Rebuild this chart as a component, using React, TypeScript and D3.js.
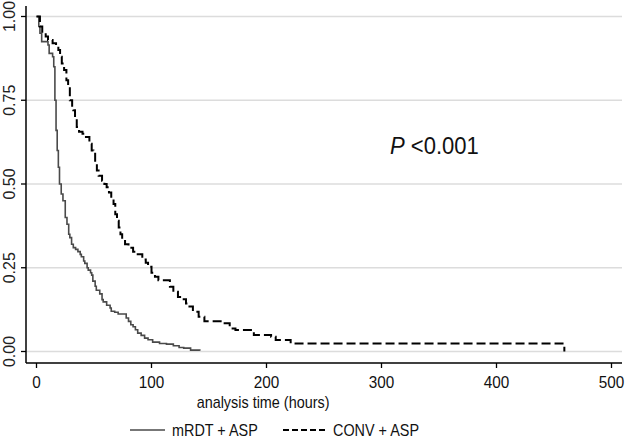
import React from "react";
import * as d3 from "d3";

const mrdtTime = [0, 2, 3, 4.5, 10, 11, 14, 15, 16, 17, 18, 19, 20, 21.5, 23, 25, 26.5, 28, 29, 30.5, 32, 34, 36, 38, 39, 41, 42, 44, 45, 47, 48, 49, 51, 52, 55, 57, 58, 61, 64, 65, 68, 71, 78, 80, 82, 84, 86, 88, 91, 94, 97, 101, 107, 113, 119, 124, 128, 134, 142];
const mrdtSurv = [1, 0.97, 0.95, 0.925, 0.915, 0.89, 0.88, 0.85, 0.75, 0.66, 0.6, 0.55, 0.5, 0.47, 0.45, 0.4, 0.38, 0.35, 0.34, 0.32, 0.31, 0.305, 0.298, 0.29, 0.283, 0.27, 0.263, 0.25, 0.243, 0.235, 0.228, 0.21, 0.195, 0.183, 0.172, 0.155, 0.148, 0.138, 0.13, 0.12, 0.117, 0.112, 0.1, 0.09, 0.08, 0.074, 0.065, 0.055, 0.048, 0.04, 0.035, 0.028, 0.024, 0.022, 0.017, 0.012, 0.01, 0.004, 0.002];

const convTime = [0, 3, 5, 8, 10, 14, 17, 19, 20.5, 22, 24, 26, 27.5, 29, 31, 32, 33.5, 35, 37, 40, 43, 46, 48, 49.5, 51, 52.5, 54, 57, 59, 61, 63, 65, 67, 68.5, 70, 71.5, 73, 74.5, 77, 80, 84, 88, 92, 95, 97, 100, 103, 106, 116, 119, 123, 128, 130, 133, 136, 141, 146, 162, 168, 173, 189, 204, 208, 221, 459];
const convSurv = [1, 0.97, 0.95, 0.94, 0.93, 0.92, 0.91, 0.9, 0.88, 0.86, 0.84, 0.81, 0.79, 0.75, 0.73, 0.72, 0.7, 0.67, 0.656, 0.65, 0.64, 0.62, 0.6, 0.59, 0.56, 0.54, 0.525, 0.51, 0.5, 0.49, 0.475, 0.455, 0.44, 0.41, 0.39, 0.37, 0.35, 0.335, 0.32, 0.31, 0.298, 0.29, 0.275, 0.265, 0.253, 0.235, 0.223, 0.213, 0.193, 0.178, 0.163, 0.156, 0.143, 0.134, 0.119, 0.104, 0.09, 0.084, 0.069, 0.064, 0.049, 0.044, 0.034, 0.024, 0.0];

const xTicks = [0, 100, 200, 300, 400, 500];
const yTicks = [0, 0.25, 0.5, 0.75, 1];
const yTickLabels = ["0.00", "0.25", "0.50", "0.75", "1.00"];
const xTitle = "analysis time (hours)";
const legendLabels = ["mRDT + ASP", "CONV + ASP"];

const W = 625;
const H = 440;
const FONT = "'Liberation Sans', Arial, sans-serif";
const SQ = 0.9;

export default function App() {
  const x = d3.scaleLinear().domain([0, 500]).range([36.5, 611.5]);
  const y = d3.scaleLinear().domain([0, 1]).range([351.5, 16.5]);
  const axisLeft = 26;
  const axisBottom = 363;
  const plotRight = 622;

  const line = d3
    .line<[number, number]>()
    .x((d) => x(d[0]))
    .y((d) => y(d[1]))
    .curve(d3.curveStepAfter);

  const mrdt = mrdtTime.map((t, i) => [t, mrdtSurv[i]] as [number, number]);
  const conv = convTime.map((t, i) => [t, convSurv[i]] as [number, number]);

  return (
    <svg
      width={W}
      height={H}
      style={{ position: "absolute", left: 0, top: 0, background: "#fff" }}
      fontFamily={FONT}
    >
      <rect x={0} y={0} width={W} height={H} fill="#fff" />
      {yTicks.map((t) => (
        <line key={"g" + t} x1={axisLeft} x2={plotRight} y1={y(t)} y2={y(t)} stroke="#dcdcdc" strokeWidth={1.3} />
      ))}
      <path d={line(mrdt) || ""} fill="none" stroke="#4a4a4a" strokeWidth={1.6} />
      <path d={line(conv) || ""} fill="none" stroke="#000" strokeWidth={2} strokeDasharray="9,4" />

      {/* axes */}
      <line x1={axisLeft} x2={axisLeft} y1={6} y2={axisBottom} stroke="#000" strokeWidth={1.5} />
      <line x1={axisLeft} x2={plotRight} y1={axisBottom} y2={axisBottom} stroke="#000" strokeWidth={1.5} />
      {yTicks.map((t, i) => (
        <g key={"y" + t}>
          <line x1={axisLeft - 5} x2={axisLeft} y1={y(t)} y2={y(t)} stroke="#000" strokeWidth={1.3} />
          <text
            transform={`translate(15,${y(t)}) rotate(-90)`}
            textAnchor="middle"
            fontSize={16}
            fill="#222"
          >
            {yTickLabels[i]}
          </text>
        </g>
      ))}
      {xTicks.map((t) => (
        <g key={"x" + t}>
          <line x1={x(t)} x2={x(t)} y1={axisBottom} y2={axisBottom + 5} stroke="#000" strokeWidth={1.3} />
          <text
            transform={`translate(${x(t)},388) scale(${SQ},1)`}
            textAnchor="middle"
            fontSize={17}
            fill="#111"
          >
            {t}
          </text>
        </g>
      ))}
      <text transform={`translate(${x(197)},408) scale(${SQ},1)`} textAnchor="middle" fontSize={16}  fill="#111">
        {xTitle}
      </text>

      <text transform={`translate(390,154) scale(${SQ},1)`} fontSize={24.5} fill="#111">
        <tspan fontStyle="italic">P</tspan>
        <tspan> &lt;0.001</tspan>
      </text>

      {/* legend */}
      <line x1={130} x2={165} y1={430} y2={430} stroke="#4a4a4a" strokeWidth={1.6} />
      <text transform={`translate(172,436) scale(${SQ},1)`} fontSize={16} fill="#111">
        {legendLabels[0]}
      </text>
      <line x1={283} x2={326} y1={430} y2={430} stroke="#000" strokeWidth={2} strokeDasharray="6,3" />
      <text transform={`translate(333,436) scale(${SQ},1)`} fontSize={16} fill="#111">
        {legendLabels[1]}
      </text>
    </svg>
  );
}
